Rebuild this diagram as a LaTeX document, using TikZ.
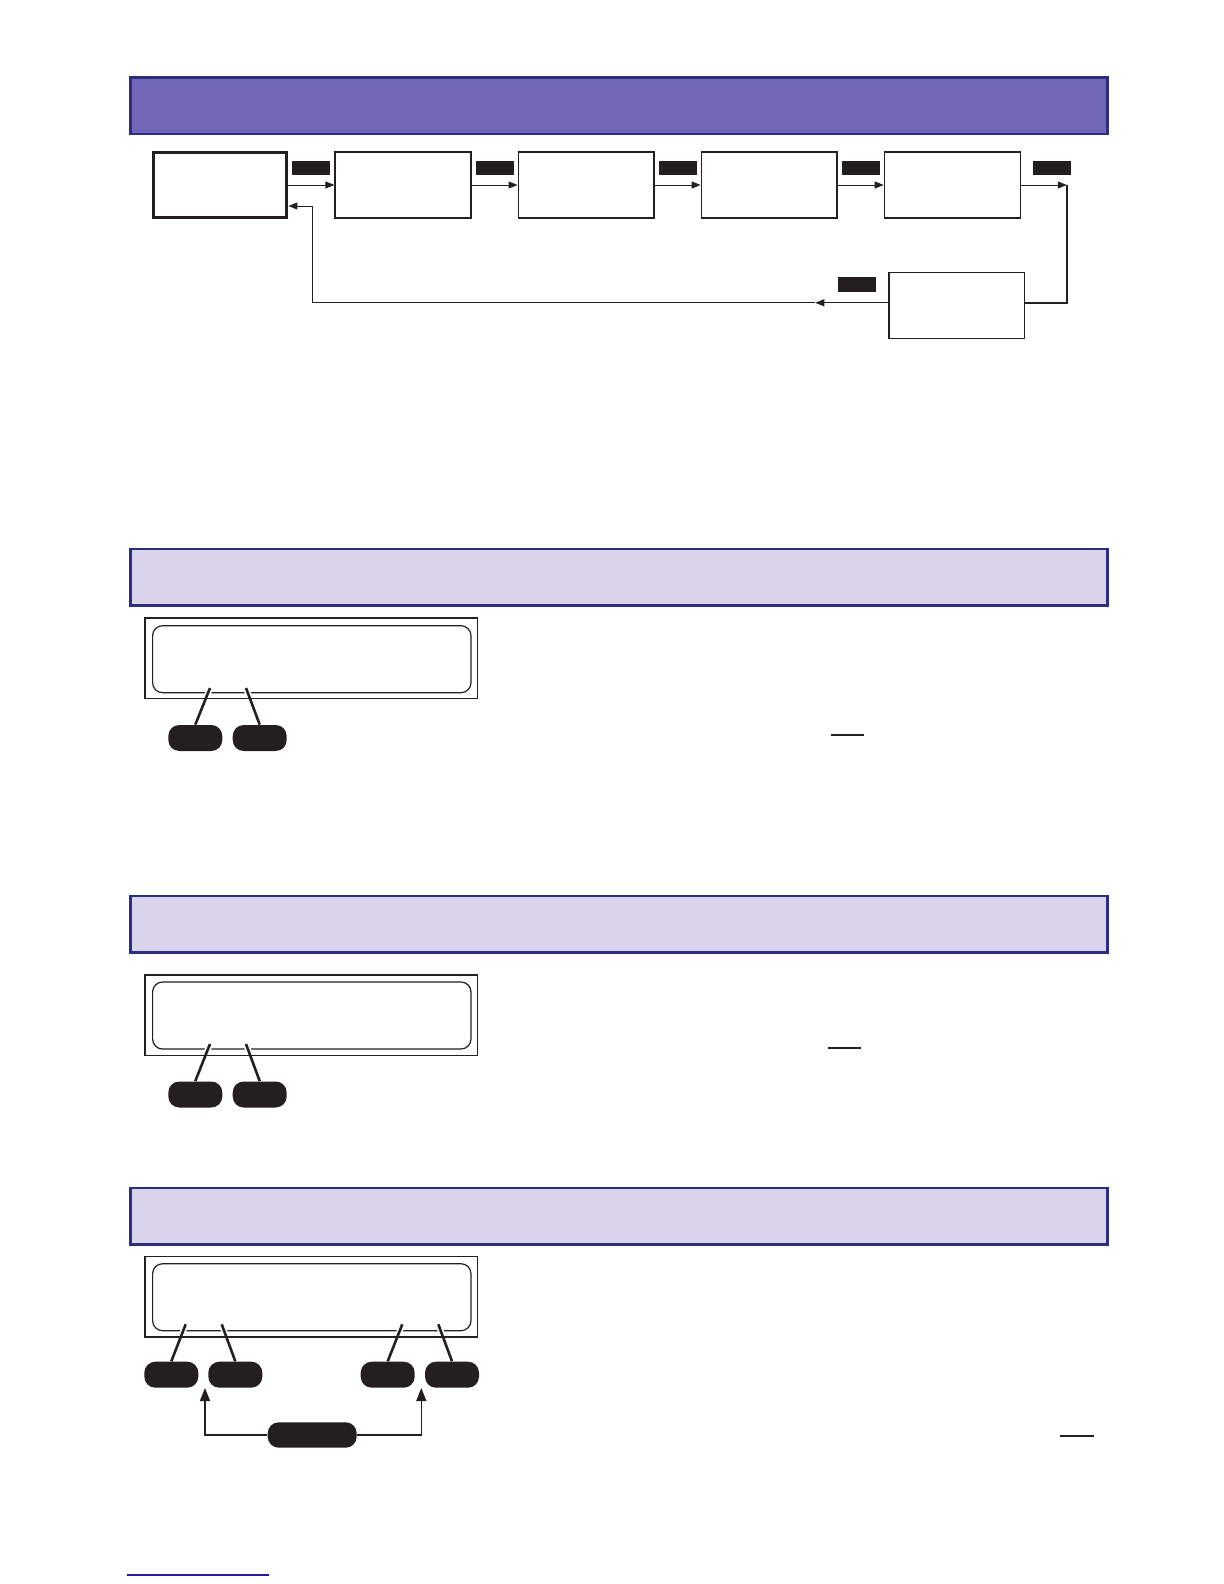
\documentclass[tikz,border=0pt]{standalone}
\usepackage{tikz}
\usetikzlibrary{positioning,calc,arrows.meta}

\definecolor{ink}{RGB}{35,31,32}
\definecolor{barline}{RGB}{45,46,128}
\definecolor{barfill}{RGB}{114,102,184}
\definecolor{barlight}{RGB}{217,211,236}
\definecolor{linkblue}{RGB}{30,30,160}

\tikzset{
  bar/.style={draw=barline, line width=1.35pt, minimum width=488.6pt, minimum height=28.3pt, inner sep=0pt},
  menubox/.style={draw=ink, line width=0.65pt, minimum width=67.9pt, minimum height=33pt, inner sep=0pt},
  keytag/.style={fill=ink, minimum width=19pt, minimum height=7.3pt, inner sep=0pt},
  flow/.style={draw=ink, line width=0.5pt, -{Triangle[length=4.5pt,width=3.5pt]}},
  lcdframe/.style={draw=ink, line width=0.65pt, minimum width=166.3pt, minimum height=40.3pt, inner sep=0pt},
  lcdglass/.style={draw=ink, line width=0.6pt, rounded corners=5pt, minimum width=159.2pt, minimum height=33.5pt, inner sep=0pt},
  keypill/.style={fill=ink, rounded corners=5.5pt, minimum width=27pt, minimum height=13pt, inner sep=0pt},
  pointer/.style={draw=ink, line width=1.3pt},
  halo/.style={draw=white, line width=3pt},
  lift/.style={draw=ink, line width=0.75pt, -{Triangle[length=6.5pt,width=5pt]}}
}

\begin{document}
\begin{tikzpicture}[x=0.5pt, y=-0.5pt]
        \useasboundingbox (0,0) rectangle (1224,1584);
        % menu loop
        \node[bar, fill=barfill] (bar1) at (619,105.7) {};
        \node[menubox, line width=1.5pt, minimum width=66.9pt, minimum height=32.2pt] (menu1) at (220,185) {};
        \node[menubox, right=23pt of menu1] (menu2) {};
        \node[menubox, right=23pt of menu2] (menu3) {};
        \node[menubox, right=23pt of menu3] (menu4) {};
        \node[menubox, right=23pt of menu4] (menu5) {};
        \node[menubox] (menu6) at (956.8,305.8) {};
        \node[keytag] (key1) at ($(menu1.east)!0.5!(menu2.west)+(0,-17)$) {};
        \node[keytag] (key2) at ($(menu2.east)!0.5!(menu3.west)+(0,-17)$) {};
        \node[keytag] (key3) at ($(menu3.east)!0.5!(menu4.west)+(0,-17)$) {};
        \node[keytag] (key4) at ($(menu4.east)!0.5!(menu5.west)+(0,-17)$) {};
        \node[keytag] (key5) at ($(menu5.east)+(31,-17)$) {};
        \node[keytag] (key6) at ($(menu6.west)+(-31,-21.5)$) {};
        \coordinate (turn) at ($(menu5.east)+(46,0)$);
        \coordinate (out) at ($(menu6.west)+(0,-3)$);
        \coordinate (in) at ($(menu6.east)+(0,-3)$);
        \coordinate (back) at ($(out)+(-73,0)$);
        \coordinate (bend) at (312.6,0);
        \draw[flow] (menu1) -- (menu2);
        \draw[flow] (menu2) -- (menu3);
        \draw[flow] (menu3) -- (menu4);
        \draw[flow] (menu4) -- (menu5);
        \draw[flow] (menu5.east) -- (turn);
        \draw[ink, line width=0.9pt] (turn) |- (in);
        \draw[flow] (out) -- (back);
        \draw[flow] (back) -- (back -| bend) |- ($(menu1.east)+(0,21)$);
        % display one
        \node[bar, fill=barlight] (bar2) at (619,577.3) {};
        \node[lcdframe] (lcd2) at (311.3,658.3) {};
        \node[lcdglass] (glass2) at (311.8,659.2) {};
        \node[keypill] (k2a) at (195.3,738) {};
        \node[keypill] (k2b) at (259.7,738) {};
        \coordinate (p2a) at (210,688);
        \coordinate (p2b) at (246,688);
        \draw[halo] (p2a) -- ($(p2a)!0.22!(k2a.north)$);
        \draw[halo] (p2b) -- ($(p2b)!0.22!(k2b.north)$);
        \draw[pointer] (p2a) -- (k2a.north);
        \draw[pointer] (p2b) -- (k2b.north);
        \draw[ink, line width=1pt] (831,734.7) -- (864,734.7);
        % display two
        \node[bar, fill=barlight] (bar3) at (619,924.2) {};
        \node[lcdframe] (lcd3) at (311.3,1015.2) {};
        \node[lcdglass] (glass3) at (311.8,1015.5) {};
        \node[keypill] (k3a) at (195.3,1094.5) {};
        \node[keypill] (k3b) at (259.7,1094.5) {};
        \coordinate (p3a) at (210,1044);
        \coordinate (p3b) at (246,1044);
        \draw[halo] (p3a) -- ($(p3a)!0.22!(k3a.north)$);
        \draw[halo] (p3b) -- ($(p3b)!0.22!(k3b.north)$);
        \draw[pointer] (p3a) -- (k3a.north);
        \draw[pointer] (p3b) -- (k3b.north);
        \draw[ink, line width=1pt] (828,1048) -- (861,1048);
        % display three
        \node[bar, fill=barlight] (bar4) at (619,1216.3) {};
        \node[lcdframe] (lcd4) at (311.3,1296.7) {};
        \node[lcdglass] (glass4) at (311.8,1297.2) {};
        \node[keypill] (k4a) at (171.3,1374.7) {};
        \node[keypill] (k4b) at (235.3,1374.7) {};
        \node[keypill] (k4c) at (387.7,1374.7) {};
        \node[keypill] (k4d) at (452,1374.7) {};
        \node[keypill, minimum width=44.5pt, minimum height=12.7pt] (both) at (312.2,1435) {};
        \coordinate (p4a) at (185.7,1324.3);
        \coordinate (p4b) at (221.7,1324.3);
        \coordinate (p4c) at (402.3,1324.3);
        \coordinate (p4d) at (438.3,1324.3);
        \draw[halo] (p4a) -- ($(p4a)!0.22!(k4a.north)$);
        \draw[halo] (p4b) -- ($(p4b)!0.22!(k4b.north)$);
        \draw[halo] (p4c) -- ($(p4c)!0.22!(k4c.north)$);
        \draw[halo] (p4d) -- ($(p4d)!0.22!(k4d.north)$);
        \draw[pointer] (p4a) -- (k4a.north);
        \draw[pointer] (p4b) -- (k4b.north);
        \draw[pointer] (p4c) -- (k4c.north);
        \draw[pointer] (p4d) -- (k4d.north);
        \coordinate (leftup) at (205,1388);
        \coordinate (rightup) at (421.3,1388);
        \draw[lift] (both.west) -| (leftup);
        \draw[lift] (both.east) -| (rightup);
        \draw[ink, line width=1pt] (1060,1435.7) -- (1094,1435.7);
        \draw[linkblue, line width=0.6pt] (126.7,1575) -- (269,1575);
\end{tikzpicture}
\end{document}
